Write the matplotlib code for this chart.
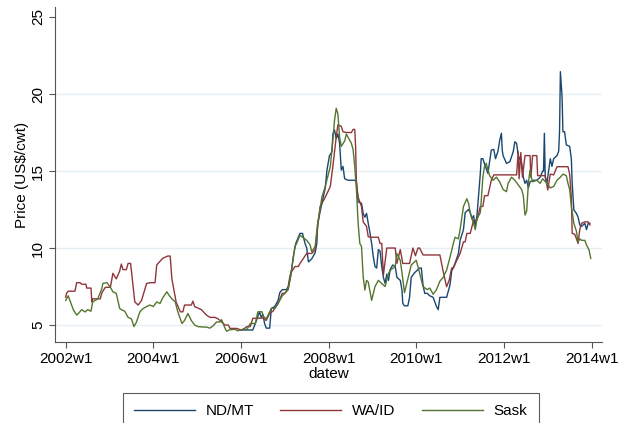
import matplotlib
matplotlib.use("Agg")
import matplotlib.pyplot as plt

plt.rcParams["font.family"] = ["Liberation Sans", "DejaVu Sans"]

# weeks counted from 2002w1 (52 weeks per year, Stata %tw)
tick_years = [2002, 2004, 2006, 2008, 2010, 2012, 2014]

ndmt_week = [207, 222, 225, 227, 230, 232, 234, 236, 238, 242, 244, 248, 252, 254, 257,
             262, 264, 266, 268, 270, 273, 276, 278, 281, 284, 286, 288, 292, 293, 296,
             298, 299, 304, 308, 310, 313, 316, 317, 319, 321, 323, 325, 327, 329, 330,
             331, 335, 343, 345, 347, 351, 353, 355, 357, 359, 361, 363, 365, 367, 369,
             371, 373, 375, 377, 379, 381, 383, 385, 388, 391, 393, 397, 399, 400, 402,
             406, 408, 410, 414, 418, 420, 422, 424, 426, 429, 432, 436, 440, 442, 444,
             448, 452, 456, 458, 462, 466, 468, 472, 474, 478, 480, 482, 484, 486, 488,
             490, 492, 493, 495, 498, 501, 503, 505, 508, 510, 513, 515, 517, 518, 519,
             523, 527, 531, 533, 535, 537, 541, 543, 545, 547, 549, 551, 555, 559, 563,
             566, 567, 568, 569, 571, 575, 577, 579, 583, 585, 586, 587, 589, 590, 592,
             594, 598, 600, 601, 603, 606, 608, 610, 612, 616, 618, 620, 622]
ndmt_price = [4.68, 4.68, 5.1, 5.4, 5.86, 5.5, 5.7, 5.1, 4.8, 4.8, 6.08, 6.2, 6.6, 7.1, 7.3,
              7.3, 7.5, 8.14, 8.57, 9.43, 10.3, 10.7, 10.95, 10.95, 10.3, 10.0, 9.1, 9.3, 9.4, 9.7,
              10.3, 11.6, 12.9, 13.9, 15.06, 16.0, 16.25, 17.4, 17.66, 17.1, 17.4, 16.8, 15.06, 15.3, 14.9,
              14.5, 14.4, 14.4, 14.3, 13.0, 12.9, 12.25, 12.0, 12.25, 11.6, 11.0, 10.3, 9.43, 8.8, 8.7,
              9.9, 9.8, 8.8, 8.1, 7.7, 8.3, 7.9, 8.6, 8.9, 8.8, 8.1, 7.9, 7.27, 6.4, 6.25,
              6.25, 6.8, 8.1, 8.4, 8.6, 8.7, 8.7, 7.6, 7.06, 7.06, 6.9, 6.8, 6.2, 6.0, 6.8,
              6.8, 6.8, 7.6, 8.5, 9.0, 9.65, 10.5, 11.2, 12.3, 12.5, 12.3, 11.9, 12.1, 11.4, 12.1,
              13.5, 14.85, 15.8, 15.8, 15.3, 14.85, 15.6, 16.36, 16.4, 15.8, 16.3, 17.0, 17.45, 16.36, 16.0,
              15.5, 15.6, 16.25, 16.9, 16.8, 16.0, 15.5, 14.6, 14.2, 14.4, 13.9, 14.3, 14.4, 14.4, 14.6,
              15.0, 15.0, 17.45, 14.6, 14.2, 15.8, 15.3, 15.8, 16.0, 16.3, 17.6, 21.45, 19.8, 17.55, 17.55,
              16.7, 16.6, 15.8, 14.2, 12.47, 12.25, 12.0, 11.5, 11.4, 11.6, 11.2, 11.6, 11.6]

waid_week = [0, 1, 3, 11, 13, 17, 19, 24, 25, 30, 31, 32, 41, 43, 47, 53, 56, 60, 64, 66,
             68, 72, 74, 77, 78, 82, 86, 90, 96, 100, 106, 108, 115, 121, 124, 126, 131, 136, 139, 141,
             149, 151, 153, 157, 161, 167, 171, 177, 181, 185, 189, 193, 195, 203, 207, 210, 215, 219, 222, 228,
             234, 238, 242, 246, 252, 257, 260, 264, 268, 272, 276, 278, 286, 292, 296, 298, 302, 308, 314, 317,
             321, 323, 327, 329, 333, 335, 339, 341, 343, 344, 345, 347, 351, 353, 357, 359, 363, 371, 373, 375,
             377, 381, 385, 391, 393, 397, 400, 408, 412, 415, 418, 420, 424, 444, 448, 452, 455, 458, 460, 464,
             468, 472, 474, 476, 480, 484, 488, 492, 495, 497, 501, 505, 508, 535, 537, 538, 540, 542, 545, 551,
             552, 554, 559, 560, 563, 569, 572, 575, 579, 583, 596, 598, 600, 601, 604, 608, 610, 612, 616, 620,
             622]
waid_price = [6.8, 7.06, 7.2, 7.2, 7.75, 7.75, 7.65, 7.65, 7.4, 7.4, 6.5, 6.7, 6.7, 7.1, 7.45, 7.45, 8.36, 8.0, 8.5, 8.96,
              8.6, 8.6, 9.0, 9.0, 8.5, 6.5, 6.3, 6.6, 7.7, 7.75, 7.75, 8.9, 9.33, 9.48, 9.48, 8.0, 6.5, 5.86, 5.86, 6.3,
              6.3, 6.55, 6.2, 6.1, 6.0, 5.65, 5.5, 5.5, 5.4, 5.2, 5.0, 5.0, 4.78, 4.78, 4.7, 4.7, 4.9, 4.9, 5.43, 5.45,
              5.45, 5.3, 5.76, 5.9, 6.4, 7.06, 7.06, 7.3, 8.46, 8.8, 8.8, 9.0, 9.65, 9.65, 9.9, 10.95, 12.7, 13.3, 14.0, 15.3,
              17.2, 18.0, 17.9, 17.55, 17.5, 17.5, 17.5, 17.7, 17.7, 16.6, 14.2, 13.3, 12.7, 11.7, 11.4, 10.73, 10.7, 10.7, 10.3, 10.3,
              8.25, 10.0, 10.0, 10.0, 9.0, 9.9, 9.0, 9.0, 10.0, 9.5, 10.0, 10.0, 9.55, 9.55, 8.46, 7.49, 7.9, 8.7, 8.7, 9.2,
              9.65, 10.4, 10.4, 10.95, 10.95, 11.8, 11.8, 12.7, 12.7, 13.4, 13.4, 14.4, 14.75, 14.75, 16.25, 14.5, 16.2, 14.6, 16.0, 16.0,
              14.6, 16.0, 16.0, 14.7, 14.7, 14.7, 13.77, 14.8, 14.75, 15.28, 15.28, 14.8, 13.3, 10.95, 10.9, 10.3, 11.2, 11.6, 11.7, 11.7,
              11.5]

sask_week = [0, 3, 5, 9, 13, 15, 19, 23, 26, 30, 32, 35, 38, 43, 44, 49, 53, 56, 60, 64,
             66, 70, 74, 78, 81, 84, 88, 92, 96, 100, 104, 108, 112, 115, 120, 123, 126, 130, 133, 138,
             141, 145, 149, 153, 157, 163, 167, 171, 175, 179, 183, 185, 189, 191, 195, 201, 204, 210, 215, 219,
             225, 228, 233, 234, 238, 244, 248, 252, 257, 260, 264, 268, 272, 274, 278, 281, 286, 290, 292, 296,
             299, 304, 308, 314, 317, 319, 321, 323, 325, 327, 331, 333, 335, 339, 341, 343, 345, 347, 349, 351,
             353, 355, 357, 359, 363, 367, 371, 375, 379, 383, 386, 391, 393, 397, 399, 402, 406, 410, 414, 416,
             420, 424, 429, 432, 436, 440, 444, 448, 452, 456, 460, 462, 466, 468, 472, 476, 478, 480, 484, 486,
             488, 492, 493, 495, 497, 499, 503, 507, 511, 515, 519, 523, 525, 529, 533, 537, 541, 543, 545, 547,
             549, 551, 552, 554, 559, 563, 566, 571, 575, 579, 583, 587, 590, 594, 596, 598, 600, 603, 606, 608,
             610, 612, 616, 618, 621, 623]
sask_price = [6.6, 6.9, 6.6, 6.0, 5.65, 5.75, 6.0, 5.85, 6.0, 5.9, 6.5, 6.6, 6.7, 7.38, 7.7, 7.75, 7.45, 7.16, 7.06, 6.08,
              6.0, 5.9, 5.5, 5.4, 4.9, 5.2, 5.86, 6.08, 6.2, 6.3, 6.2, 6.5, 6.4, 6.75, 7.16, 6.9, 6.7, 6.5, 5.86, 5.1,
              5.3, 5.75, 5.3, 5.0, 4.9, 4.87, 4.87, 4.8, 4.95, 5.2, 5.2, 5.35, 4.8, 4.6, 4.7, 4.72, 4.63, 4.72, 4.72, 5.1,
              5.1, 5.86, 5.86, 5.6, 5.4, 6.08, 6.08, 6.4, 6.9, 7.06, 7.38, 8.57, 10.1, 10.3, 10.84, 10.7, 10.5, 10.2, 9.76, 10.1,
              11.6, 13.3, 14.0, 15.3, 17.0, 18.3, 19.07, 18.7, 17.2, 16.6, 16.95, 17.4, 17.2, 16.8, 16.4, 15.3, 13.77, 11.6, 10.3, 10.1,
              8.14, 7.27, 7.9, 7.8, 6.6, 7.5, 7.9, 7.7, 7.5, 8.36, 8.6, 8.8, 9.65, 9.2, 8.4, 7.1, 8.0, 8.9, 9.1, 9.2,
              8.37, 7.5, 7.3, 7.4, 7.0, 7.3, 7.85, 8.1, 8.57, 9.4, 10.3, 10.7, 10.6, 11.2, 12.7, 13.2, 12.9, 12.3, 11.6, 11.2,
              11.9, 12.3, 13.0, 14.6, 15.3, 15.5, 14.7, 14.4, 14.6, 14.3, 13.8, 13.66, 14.2, 14.6, 14.4, 14.1, 13.8, 13.4, 12.14, 12.4,
              14.2, 15.06, 14.7, 14.3, 14.4, 14.2, 14.5, 14.2, 13.9, 14.0, 14.4, 14.6, 14.8, 14.7, 14.2, 13.8, 12.7, 11.6, 11.1, 10.4,
              10.6, 10.5, 10.5, 10.2, 9.87, 9.33]

series = [
    ("ND/MT", ndmt_week, ndmt_price, "#1a476f"),
    ("WA/ID", waid_week, waid_price, "#90353b"),
    ("Sask", sask_week, sask_price, "#55752f"),
]


def main() -> None:
    fig = plt.figure(figsize=(6.18, 4.23), dpi=100)
    ax = fig.add_axes([0.089, 0.1915, 0.8846, 0.792])

    for name, wk, pr, col in series:
        ax.plot(wk, pr, color=col, linewidth=1.0, label=name)

    ax.set_xlim(-12.7, 636)
    ax.set_ylim(3.9, 25.65)
    ticks = [(y - 2002) * 52 for y in tick_years]
    ax.set_xticks(ticks)
    ax.set_xticklabels([f"{y}w1" for y in tick_years])
    ax.set_yticks([5, 10, 15, 20, 25])
    ax.set_yticklabels(["5", "10", "15", "20", "25"], rotation=90, va="center")
    for v in [5, 10, 15, 20]:
        ax.axhline(v, color="#e6eff3", linewidth=1.0, zorder=0)

    for s in ["top", "right"]:
        ax.spines[s].set_visible(False)
    for s in ["left", "bottom"]:
        ax.spines[s].set_color("#555555")
        ax.spines[s].set_linewidth(0.8)
    ax.tick_params(direction="out", length=4, width=0.8, color="#555555",
                   labelsize=11, pad=3)

    ax.set_xlabel("datew", fontsize=11, labelpad=1)
    ax.set_ylabel("Price (US$/cwt)", fontsize=11, labelpad=2)

    handles, labels = ax.get_legend_handles_labels()
    leg = fig.legend(handles, labels, loc="upper center", ncol=3,
                     bbox_to_anchor=(0.535, 0.072), frameon=True, fancybox=False,
                     fontsize=11, handlelength=4.0, handletextpad=0.7,
                     columnspacing=1.7, borderpad=0.75, borderaxespad=0)
    leg.get_frame().set_edgecolor("#333333")
    leg.get_frame().set_linewidth(0.8)

    fig.savefig("out.png", dpi=100)


if __name__ == "__main__":
    main()
